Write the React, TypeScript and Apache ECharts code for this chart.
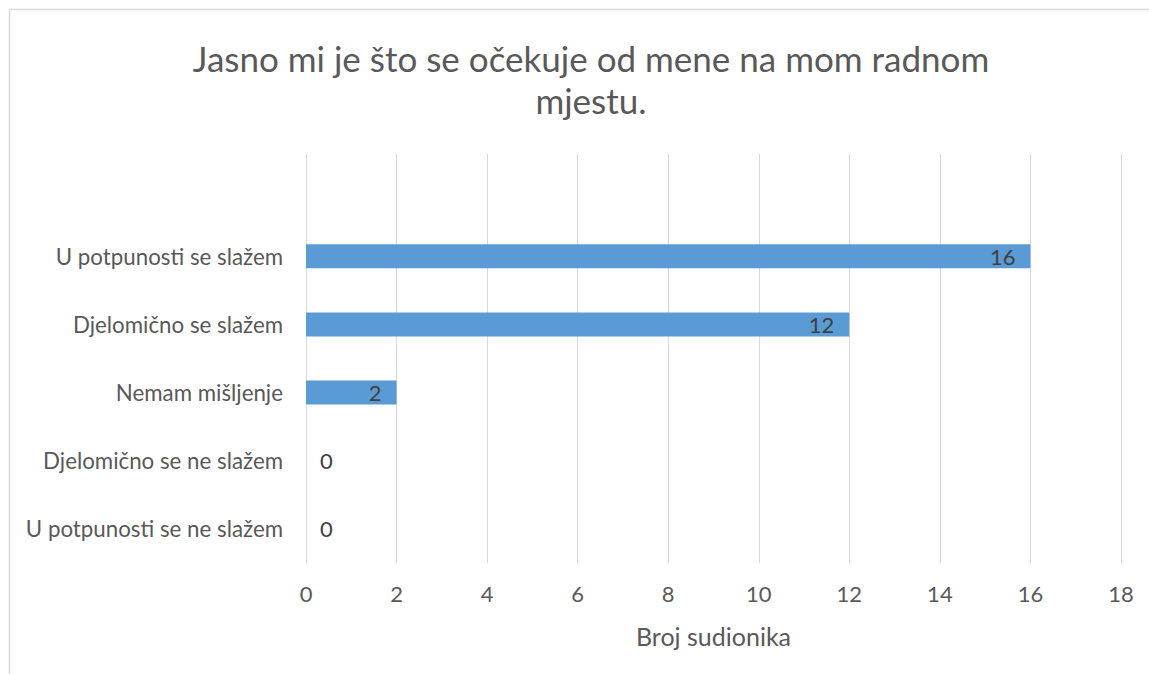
import React, { useEffect, useRef } from "react";
import * as echarts from "echarts";

const titleText = "Jasno mi je što se očekuje od mene na mom radnom\nmjestu.";
const categories = [
  "U potpunosti se ne slažem",
  "Djelomično se ne slažem",
  "Nemam mišljenje",
  "Djelomično se slažem",
  "U potpunosti se slažem",
  "",
];
const values: (number | null)[] = [0, 0, 2, 12, 16, null];
const xMin = 0;
const xMax = 18;
const xInterval = 2;
const xAxisName = "Broj sudionika";

const FONT = "Lato";
const TEXT = "#595959";

export default function App() {
  const ref = useRef<HTMLDivElement>(null);
  useEffect(() => {
    if (!ref.current) return;
    const chart = echarts.init(ref.current, undefined, { renderer: "svg" });
    chart.setOption({
      animation: false,
      backgroundColor: "#ffffff",
      title: {
        text: titleText,
        left: 586,
        top: 32,
        textAlign: "center",
        textStyle: {
          fontFamily: FONT,
          fontSize: 35,
          fontWeight: "normal",
          color: TEXT,
          lineHeight: 42,
        },
      },
      graphic: [
        {
          type: "rect",
          shape: { x: 9.5, y: 9.5, width: 1200, height: 700 },
          style: { fill: "none", stroke: "#D9D9D9", lineWidth: 1.5 },
          silent: true,
        },
      ],
      grid: { left: 306, right: 28, top: 154, bottom: 111 },
      xAxis: {
        type: "value",
        min: xMin,
        max: xMax,
        interval: xInterval,
        name: xAxisName,
        nameLocation: "middle",
        nameGap: 60,
        nameTextStyle: { fontFamily: FONT, fontSize: 25, color: TEXT },
        axisLine: { show: false },
        axisTick: { show: false },
        axisLabel: { fontFamily: FONT, fontSize: 22, color: TEXT, margin: 19 },
        splitLine: { show: true, lineStyle: { color: "#D9D9D9", width: 1 } },
      },
      yAxis: {
        type: "category",
        data: categories,
        axisLine: { show: false },
        axisTick: { show: false },
        axisLabel: { fontFamily: FONT, fontSize: 22.3, color: TEXT, margin: 23 },
        splitLine: { show: false },
      },
      series: [
        {
          type: "bar",
          data: values.map((v) =>
            v === 0
              ? { value: v, label: { position: "right", distance: 14 } }
              : v
          ),
          barWidth: 24,
          itemStyle: { color: "#5B9BD5" },
          label: {
            show: true,
            position: "insideRight",
            distance: 15,
            fontFamily: FONT,
            fontSize: 22,
            color: "#404040",
          },
        },
      ],
    });
    return () => chart.dispose();
  }, []);
  return (
    <div
      ref={ref}
      style={{ position: "fixed", left: 0, top: 0, width: 1149, height: 674 }}
    />
  );
}
